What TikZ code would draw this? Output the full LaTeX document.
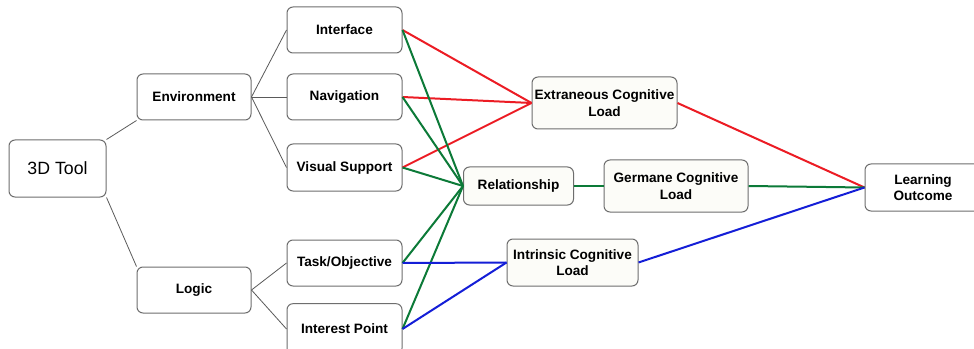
\documentclass[tikz,border=0pt]{standalone}
\usepackage{fontspec}
\setmainfont{Liberation Sans}
\definecolor{boxline}{RGB}{110,110,110}
\definecolor{creamfill}{RGB}{252,252,248}
\definecolor{linkred}{RGB}{236,28,36}
\definecolor{linkgreen}{RGB}{12,122,56}
\definecolor{linkblue}{RGB}{20,30,215}
\definecolor{treeline}{RGB}{90,90,90}
\begin{document}
\begin{tikzpicture}[x=0.75pt,y=-0.75pt,
  box/.style={draw=boxline,line width=0.75pt,rounded corners=4.5pt,fill=white,
    align=center,inner sep=0pt,font=\fontsize{10.2}{12.5}\selectfont\bfseries},
  cbox/.style={box,fill=creamfill},
  tree/.style={draw=treeline,line width=0.6pt},
  red/.style={draw=linkred,line width=1.5pt},
  grn/.style={draw=linkgreen,line width=1.5pt},
  blu/.style={draw=linkblue,line width=1.5pt}]
\clip (0,0) rectangle (974,349);
\fill[white] (0,0) rectangle (974,349);
% nodes
\node[box,minimum width=72.75pt,minimum height=42.75pt,font=\fontsize{13.3}{16}\selectfont] (tool) at (57.5,168.5) {3D Tool};
\node[box,minimum width=85.5pt,minimum height=34.5pt] (env) at (194,97) {Environment};
\node[box,minimum width=85.5pt,minimum height=34.5pt] (logic) at (194,290) {Logic};
\node[box,minimum width=86.25pt,minimum height=34.5pt] (iface) at (344.5,30) {Interface};
\node[box,minimum width=86.25pt,minimum height=34.5pt] (nav) at (344.5,97) {Navigation};
\node[box,minimum width=86.25pt,minimum height=35.25pt] (vis) at (344.5,167.5) {Visual Support};
\node[box,minimum width=86.25pt,minimum height=34.5pt] (task) at (344.5,263) {Task/Objective};
\node[box,minimum width=86.25pt,minimum height=38pt] (ip) at (344.5,329) {Interest Point};
\node[cbox,minimum width=108.75pt,minimum height=39pt] (ext) at (604.5,103) {Extraneous Cognitive\\Load};
\node[cbox,minimum width=82.5pt,minimum height=28.5pt] (rel) at (518.5,186) {Relationship};
\node[cbox,minimum width=108pt,minimum height=39pt] (ger) at (676,186) {Germane Cognitive\\Load};
\node[cbox,minimum width=98.25pt,minimum height=35.25pt] (intr) at (572.5,262.5) {Intrinsic Cognitive\\Load};
\node[box,minimum width=87pt,minimum height=35.25pt] (lo) at (923,187.5) {Learning\\Outcome};
% tree connectors
\draw[tree] (tool.north east) -- (env.south west);
\draw[tree] (tool.south east) -- (logic.north west);
\draw[tree] (env.east) -- (iface.west);
\draw[tree] (env.east) -- (nav.west);
\draw[tree] (env.east) -- (vis.west);
\draw[tree] (logic.east) -- (task.west);
\draw[tree] (logic.east) -- (ip.west);
% red links
\draw[red] (iface.east) -- (ext.west);
\draw[red] (nav.east) -- (ext.west);
\draw[red] (vis.east) -- (ext.west);
\draw[red] (ext.east) -- (lo.west);
% green links
\draw[grn] (iface.east) -- (rel.west);
\draw[grn] (nav.east) -- (rel.west);
\draw[grn] (vis.east) -- (rel.west);
\draw[grn] (task.east) -- (rel.west);
\draw[grn] (ip.east) -- (rel.west);
\draw[grn] (rel.east) -- (ger.west);
\draw[grn] (ger.east) -- (lo.west);
% blue links
\draw[blu] (task.east) -- (intr.west);
\draw[blu] (ip.east) -- (intr.west);
\draw[blu] (intr.east) -- (lo.west);
\end{tikzpicture}
\end{document}
